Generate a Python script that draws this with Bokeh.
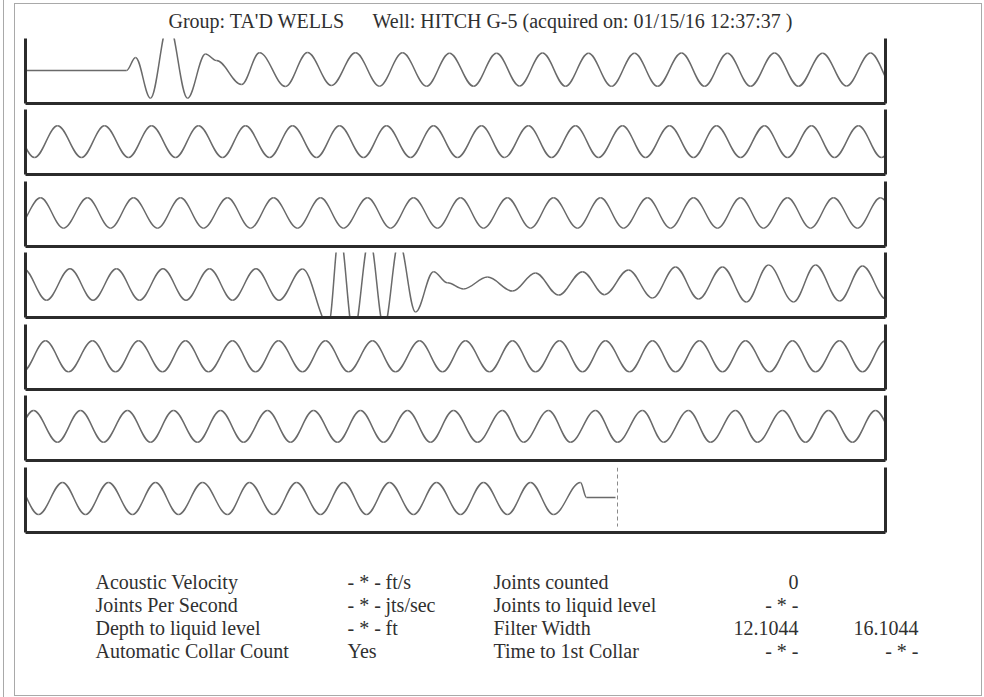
import numpy as np
from bokeh.plotting import figure
from bokeh.models import Range1d, LinearAxis, FixedTicker, Label, ColumnDataSource
from bokeh.layouts import column
from bokeh.embed import file_html
from bokeh.resources import INLINE
from bokeh.core.properties import value

# ---------------- data ----------------
TITLE_GROUP = "Group: TA'D WELLS"
TITLE_WELL = "Well: HITCH G-5 (acquired on: 01/15/16 12:37:37 )"

# acoustic trace, one strip per row: extrema (time offset inside the strip, normalised amplitude)
ROW1_T = [-5, 101, 110, 125, 143, 162, 180, 191, 216, 234, 260, 282, 306, 330, 354, 377, 401, 424, 448,
          471, 494, 517, 540, 563, 586, 609, 632, 656, 679, 702, 725, 749, 773, 797, 821, 845, 868]
ROW1_V = [0, 0, 0.79, -1.68, 2.9, -1.68, 1.0, 0.6, -0.85, 1.07, -0.97, 1.09, -0.91, 1.07, -0.95, 1.07, -0.95, 1.05, -0.95,
          1.05, -0.94, 1.06, -0.95, 1.05, -0.96, 1.05, -0.95, 1.06, -0.95, 1.05, -0.95, 1.06, -0.95, 1.05, -0.94, 1.06, -0.95]

ROW2_T = [-14, 9, 32, 56, 79, 103, 126, 150, 173, 197, 220, 244, 267, 291, 314, 338, 361, 385, 408, 432,
          456, 479, 503, 526, 550, 573, 597, 620, 644, 668, 691, 715, 739, 762, 786, 809, 833, 856, 880]
ROW2_V = [0.95, -0.97, 0.95, -0.97, 0.95, -0.97, 0.95, -0.97, 0.95, -0.97, 0.95, -0.97, 0.95, -0.97, 0.95, -0.97,
          0.95, -0.97, 0.95, -0.97, 0.95, -0.97, 0.95, -0.97, 0.95, -0.97, 0.95, -0.97, 0.95, -0.97, 0.95, -0.97,
          0.95, -0.97, 0.95, -0.97, 0.95, -0.97, 0.95]

ROW3_T = [-9, 15, 38, 62, 85, 108, 132, 155, 178, 202, 225, 248, 272, 295, 318, 342, 365, 388, 412, 435,
          458, 482, 505, 528, 552, 575, 598, 622, 645, 668, 692, 715, 738, 762, 785, 808, 832, 855, 878]
ROW3_V = [-0.89, 0.95, -0.89, 0.95, -0.89, 0.95, -0.89, 0.95, -0.89, 0.95, -0.89, 0.95, -0.89, 0.95, -0.89, 0.95,
          -0.89, 0.95, -0.89, 0.95, -0.89, 0.95, -0.89, 0.95, -0.89, 0.95, -0.89, 0.95, -0.89, 0.95, -0.89, 0.95,
          -0.89, 0.95, -0.89, 0.95, -0.89, 0.95, -0.89]

ROW4_T = [-2, 21, 44.5, 67.5, 91, 114, 137.5, 160.5, 184, 207, 230.5, 253.5, 277, 303, 314, 328, 344, 358.5,
          373.5, 390, 408, 422, 438, 462, 487, 510, 533, 557, 579, 603, 627, 650, 673, 697, 721, 743, 768,
          790, 814, 837, 861]
ROW4_V = [0.95, -0.95, 0.95, -0.95, 0.95, -0.95, 0.95, -0.95, 0.95, -0.95, 0.95, -0.95, 0.94, -2.4, 3.2, -3.0,
          2.8, -2.6, 2.6, -1.67, 0.78, 0.1, -0.27, 0.45, -0.4, 0.7, -0.64, 0.78, -0.62, 0.88, -0.82, 1.06,
          -0.88, 1.06, -1.06, 1.18, -1.06, 1.18, -1.0, 1.12, -0.9]

ROW5_T = [-3, 20, 43, 67, 90, 113, 137, 160, 183, 207, 230, 253, 277, 300, 323, 347, 370, 394, 417, 440,
          464, 487, 510, 534, 557, 580, 604, 627, 650, 674, 697, 720, 744, 767, 790, 814, 837, 860, 883]
ROW5_V = [-0.93, 0.95, -0.93, 0.95, -0.93, 0.95, -0.93, 0.95, -0.93, 0.95, -0.93, 0.95, -0.93, 0.95, -0.93, 0.95,
          -0.93, 0.95, -0.93, 0.95, -0.93, 0.95, -0.93, 0.95, -0.93, 0.95, -0.93, 0.95, -0.93, 0.95, -0.93, 0.95,
          -0.93, 0.95, -0.93, 0.95, -0.93, 0.95, -0.93]

ROW6_T = [-15, 8, 32, 55, 78, 102, 125, 148, 172, 195, 218, 242, 265, 288, 312, 335, 358, 382, 405, 428,
          452, 477, 498, 523, 545, 570, 592, 617, 638, 663, 685, 710, 732, 757, 780, 803, 827, 850, 873]
ROW6_V = [-0.89, 1.03, -0.89, 1.03, -0.89, 1.03, -0.89, 1.03, -0.89, 1.03, -0.89, 1.03, -0.89, 1.03, -0.89, 1.03,
          -0.89, 1.03, -0.89, 1.03, -0.89, 1.03, -0.89, 1.03, -0.89, 1.03, -0.89, 1.03, -0.89, 1.03, -0.89, 1.03,
          -0.89, 1.03, -0.89, 1.03, -0.89, 1.03, -0.89]

ROW7_T = [-10, 13, 37, 60, 83, 107, 130, 153, 177, 202, 224, 248, 271, 295, 318, 341, 364, 388, 411, 435,
          458, 482, 505, 528, 555, 561, 590]
ROW7_V = [1.03, -0.91, 1.03, -0.91, 1.03, -0.91, 1.03, -0.91, 1.03, -0.91, 1.03, -0.91, 1.03, -0.91, 1.03, -0.91,
          1.03, -0.91, 1.03, -0.91, 1.03, -0.91, 1.03, -0.91, 1.03, 0.12, 0.12]

END_OF_RECORD_T = 592          # dashed marker in the last strip
END_OF_RECORD_V = (1.94, -1.64)

LABELS_LEFT = ["Acoustic Velocity", "Joints Per Second", "Depth to liquid level", "Automatic Collar Count"]
VALUES_LEFT = ["- * -", "- * -", "- * -", "Yes"]
UNITS_LEFT = ["ft/s", "jts/sec", "ft", ""]
LABELS_RIGHT = ["Joints counted", "Joints to liquid level", "Filter Width", "Time to 1st Collar"]
VALUES_RIGHT_1 = ["0", "- * -", "12.1044", "- * -"]
VALUES_RIGHT_2 = ["", "", "16.1044", "- * -"]

ROWS = [(ROW1_T, ROW1_V), (ROW2_T, ROW2_V), (ROW3_T, ROW3_V), (ROW4_T, ROW4_V),
        (ROW5_T, ROW5_V), (ROW6_T, ROW6_V), (ROW7_T, ROW7_V)]

# ---------------- layout / style ----------------
PAGE_W, PAGE_H = 984, 697
FONT = "Liberation Serif"
FONT_SIZE = "20px"
INK = "#303030"
TRACE = "#6a6a6a"
FRAME = "#2b2b2b"
RULE = "#a9a9a9"
K = 1.0 - 2.0 / np.pi          # bezier handle fraction giving a cosine-like half wave
STRIP_SPAN = (0, 860)
AMP_RANGE = (-2.0, 1.94)
FRAME_H = 65
STRIP_H = [71, 72, 71, 72, 71, 72, 71]
HEAD_H = 38
STRIP_LEFT, STRIP_RIGHT = 25, 885
TITLE_BASE = 20
ROW_Y0, ROW_DY = 581, 23.3


def base_fig(h, **kw):
    p = figure(width=PAGE_W, height=h, output_backend="svg", toolbar_location=None,
               x_axis_type=None, y_axis_type=None, frame_align=False, **kw)
    p.background_fill_color = None
    p.border_fill_color = None
    p.outline_line_color = None
    p.grid.visible = False
    return p


# header
head = base_fig(HEAD_H, x_range=Range1d(0, PAGE_W), y_range=Range1d(HEAD_H, 0), min_border=0)
for tx, txt in ((168, TITLE_GROUP), (372, TITLE_WELL)):
    head.add_layout(Label(x=tx, y=TITLE_BASE, text=txt, text_font=FONT, text_font_size=FONT_SIZE,
                          text_color=INK, text_baseline="alphabetic", text_align="left"))

# strips
strips = []
for i, (T, V) in enumerate(ROWS):
    h = STRIP_H[i]
    p = base_fig(h, x_range=Range1d(*STRIP_SPAN), y_range=Range1d(*AMP_RANGE),
                 min_border_left=STRIP_LEFT, min_border_right=PAGE_W - STRIP_RIGHT, min_border_top=0,
                 min_border_bottom=h - FRAME_H)
    for side in ("left", "right", "below"):
        ax = LinearAxis(ticker=FixedTicker(ticks=[]), axis_line_width=3, axis_line_color=FRAME,
                        major_tick_line_color=None, minor_tick_line_color=None,
                        major_tick_out=0, major_tick_in=0, minor_tick_out=0, minor_tick_in=0,
                        major_label_text_font_size="0px", major_label_standoff=0)
        p.add_layout(ax, side)
    t = np.asarray(T, dtype=float)
    v = np.asarray(V, dtype=float)
    dt = np.diff(t)
    src = ColumnDataSource(dict(x0=t[:-1], y0=v[:-1], x1=t[1:], y1=v[1:],
                                cx0=t[:-1] + K * dt, cy0=v[:-1], cx1=t[1:] - K * dt, cy1=v[1:]))
    p.bezier(x0="x0", y0="y0", x1="x1", y1="y1", cx0="cx0", cy0="cy0", cx1="cx1", cy1="cy1",
             source=src, line_color=TRACE, line_width=1.5)
    if i == len(ROWS) - 1:
        p.segment(x0=[END_OF_RECORD_T], y0=[END_OF_RECORD_V[0]], x1=[END_OF_RECORD_T], y1=[END_OF_RECORD_V[1]],
                  line_color="#8a8a8a", line_width=1, line_dash="4 3")
    strips.append(p)

# parameter table
top_tab = HEAD_H + sum(STRIP_H)
tab_h = PAGE_H - top_tab
tab = base_fig(tab_h, x_range=Range1d(0, PAGE_W), y_range=Range1d(PAGE_H, top_tab), min_border=0)
ys = [ROW_Y0 + k * ROW_DY for k in range(4)]
cols = [(95, LABELS_LEFT, "left"), (347, VALUES_LEFT, "left"), (385, UNITS_LEFT, "left"),
        (493, LABELS_RIGHT, "left"), (798, VALUES_RIGHT_1, "right"), (918, VALUES_RIGHT_2, "right")]
for cx, texts, align in cols:
    tab.text(x=[cx] * 4, y=ys, text=texts, text_font=value(FONT), text_font_size=value(FONT_SIZE),
             text_color=INK, text_align=align, text_baseline="alphabetic")

# page rules (scanned sheet border), drawn as thin background lines behind the transparent figures
g = f"linear-gradient({RULE}, {RULE})"
layout = column(head, *strips, tab, spacing=0,
                styles={"background-image": ", ".join([g] * 5),
                        "background-position": "3px 0px, 14px 3px, 14px 3px, 981px 3px, 14px 695px",
                        "background-size": "1px 697px, 1px 693px, 968px 1px, 1px 693px, 968px 1px",
                        "background-repeat": "no-repeat"})

open("out.html", "w").write(file_html(layout, INLINE))
